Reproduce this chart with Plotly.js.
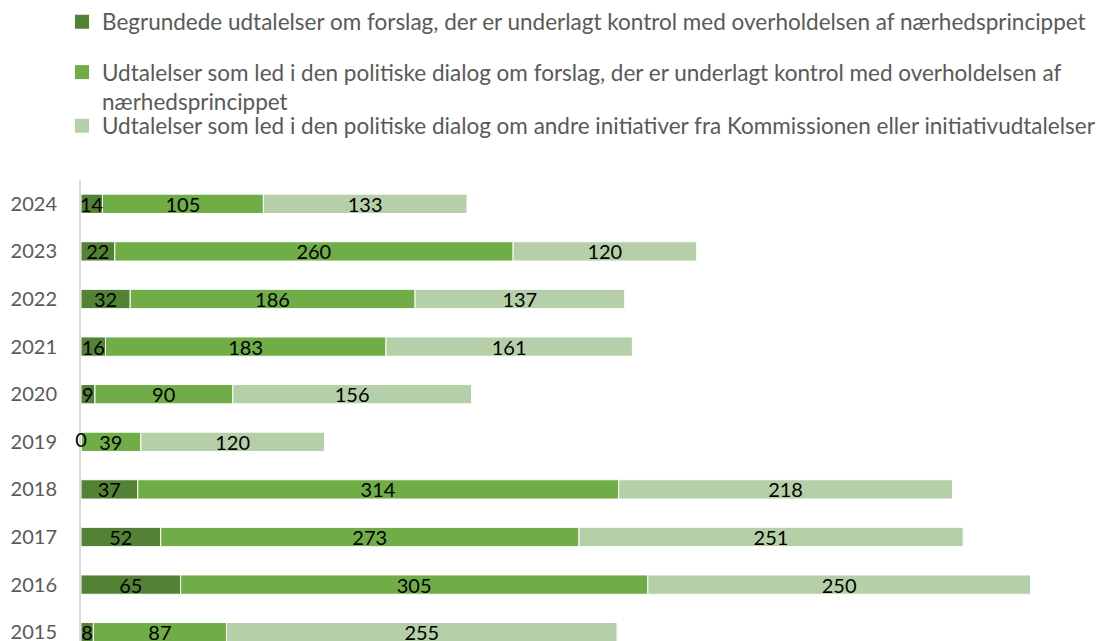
<!DOCTYPE html>
<html>
<head>
<meta charset="utf-8">
<script src="https://cdn.plot.ly/plotly-3.0.1.min.js"></script>
<style>
html, body { margin: 0; padding: 0; overflow: hidden; background: #fff; }
#chart { width: 1098px; height: 660px; }
</style>
</head>
<body>
<div id="chart"></div>
<script>
const years = ['2015','2016','2017','2018','2019','2020','2021','2022','2023','2024'];
const begrundede = [8, 65, 52, 37, 0, 9, 16, 32, 22, 14];
const dialogForslag = [87, 305, 273, 314, 39, 90, 183, 186, 260, 105];
const dialogAndre = [255, 250, 251, 218, 120, 156, 161, 137, 120, 133];

const seriesNames = [
  'Begrundede udtalelser om forslag, der er underlagt kontrol med overholdelsen af nærhedsprincippet',
  'Udtalelser som led i den politiske dialog om forslag, der er underlagt kontrol med overholdelsen af<br>nærhedsprincippet',
  'Udtalelser som led i den politiske dialog om andre initiativer fra Kommissionen eller initiativudtalelser'
];
const colors = ['#548235', '#70ad47', '#b5d0a8'];

const FONT = 'Lato, "Open Sans", sans-serif';
const H = 660;
const labelFont = { family: FONT, size: 20, color: '#000000' };

// stacked by explicit bases so the darkest series is drawn last (its labels stay on top)
const base0 = years.map(() => 0);
const base1 = begrundede.slice();
const base2 = begrundede.map((v, k) => v + dialogForslag[k]);

function mkBar(vals, base, i) {
  return {
    type: 'bar',
    orientation: 'h',
    y: years,
    x: vals,
    base: base,
    name: seriesNames[i],
    showlegend: false,
    marker: { color: colors[i], line: { color: '#ffffff', width: 1 } },
    text: vals.map(String),
    texttemplate: '%{text}',
    textposition: vals.map(v => v === 0 ? 'none' : 'inside'),
    insidetextanchor: 'middle',
    textangle: 0,
    constraintext: 'none',
    cliponaxis: false,
    textfont: labelFont,
    insidetextfont: labelFont,
    outsidetextfont: labelFont,
    hoverinfo: 'x+y+name'
  };
}

// zero-length segments still show their value label, centred on the bar start
const zeroIdx = begrundede.map((v, k) => v === 0 ? k : -1).filter(k => k >= 0);
const zeroLabels = {
  type: 'scatter', mode: 'text',
  y: zeroIdx.map(k => years[k]),
  x: zeroIdx.map(k => begrundede[k]),
  text: zeroIdx.map(k => String(begrundede[k])),
  textposition: 'middle center',
  textfont: labelFont,
  cliponaxis: false,
  showlegend: false,
  hoverinfo: 'skip'
};

// legend entries (square swatches)
function mkLegend(i, legendId) {
  return {
    type: 'scatter', mode: 'markers',
    x: [null], y: [null],
    name: seriesNames[i],
    legend: legendId,
    showlegend: true,
    marker: { symbol: 'square', size: 14, color: colors[i] },
    hoverinfo: 'skip'
  };
}

const data = [
  mkBar(dialogAndre, base2, 2),
  mkBar(dialogForslag, base1, 1),
  mkBar(begrundede, base0, 0),
  zeroLabels,
  mkLegend(0, 'legend'),
  mkLegend(1, 'legend2'),
  mkLegend(2, 'legend3')
];

const legendBase = {
  xref: 'container', yref: 'container',
  x: 62 / 1098, xanchor: 'left', yanchor: 'middle',
  bgcolor: 'rgba(0,0,0,0)',
  itemsizing: 'trace',
  font: { family: FONT, size: 22.5, color: '#595959' },
  itemclick: false, itemdoubleclick: false
};

const layout = {
  width: 1098, height: H,
  margin: { l: 81, r: 0, t: 180, b: 4, pad: 0, autoexpand: false },
  paper_bgcolor: '#ffffff', plot_bgcolor: '#ffffff',
  barmode: 'overlay',
  bargap: 0.594,
  font: { family: FONT, color: '#595959' },
  showlegend: true,
  legend: Object.assign({}, legendBase, { y: 1 - 22 / H }),
  legend2: Object.assign({}, legendBase, { y: 1 - 87 / H, valign: 'top' }),
  legend3: Object.assign({}, legendBase, { y: 1 - 126 / H }),
  xaxis: {
    range: [0, 664], visible: false, showgrid: false, zeroline: false, fixedrange: true
  },
  yaxis: {
    type: 'category',
    categoryorder: 'array', categoryarray: years,
    range: [-0.5, 9.5],
    automargin: false,
    layer: 'below traces',
    showline: true, linecolor: '#d9d9d9', linewidth: 2,
    showgrid: false, zeroline: false,
    ticks: '', ticklabelstandoff: 18,
    tickfont: { family: FONT, size: 20, color: '#595959' },
    fixedrange: true
  }
};

Plotly.newPlot('chart', data, layout, { displayModeBar: false, staticPlot: true });
</script>
</body>
</html>
